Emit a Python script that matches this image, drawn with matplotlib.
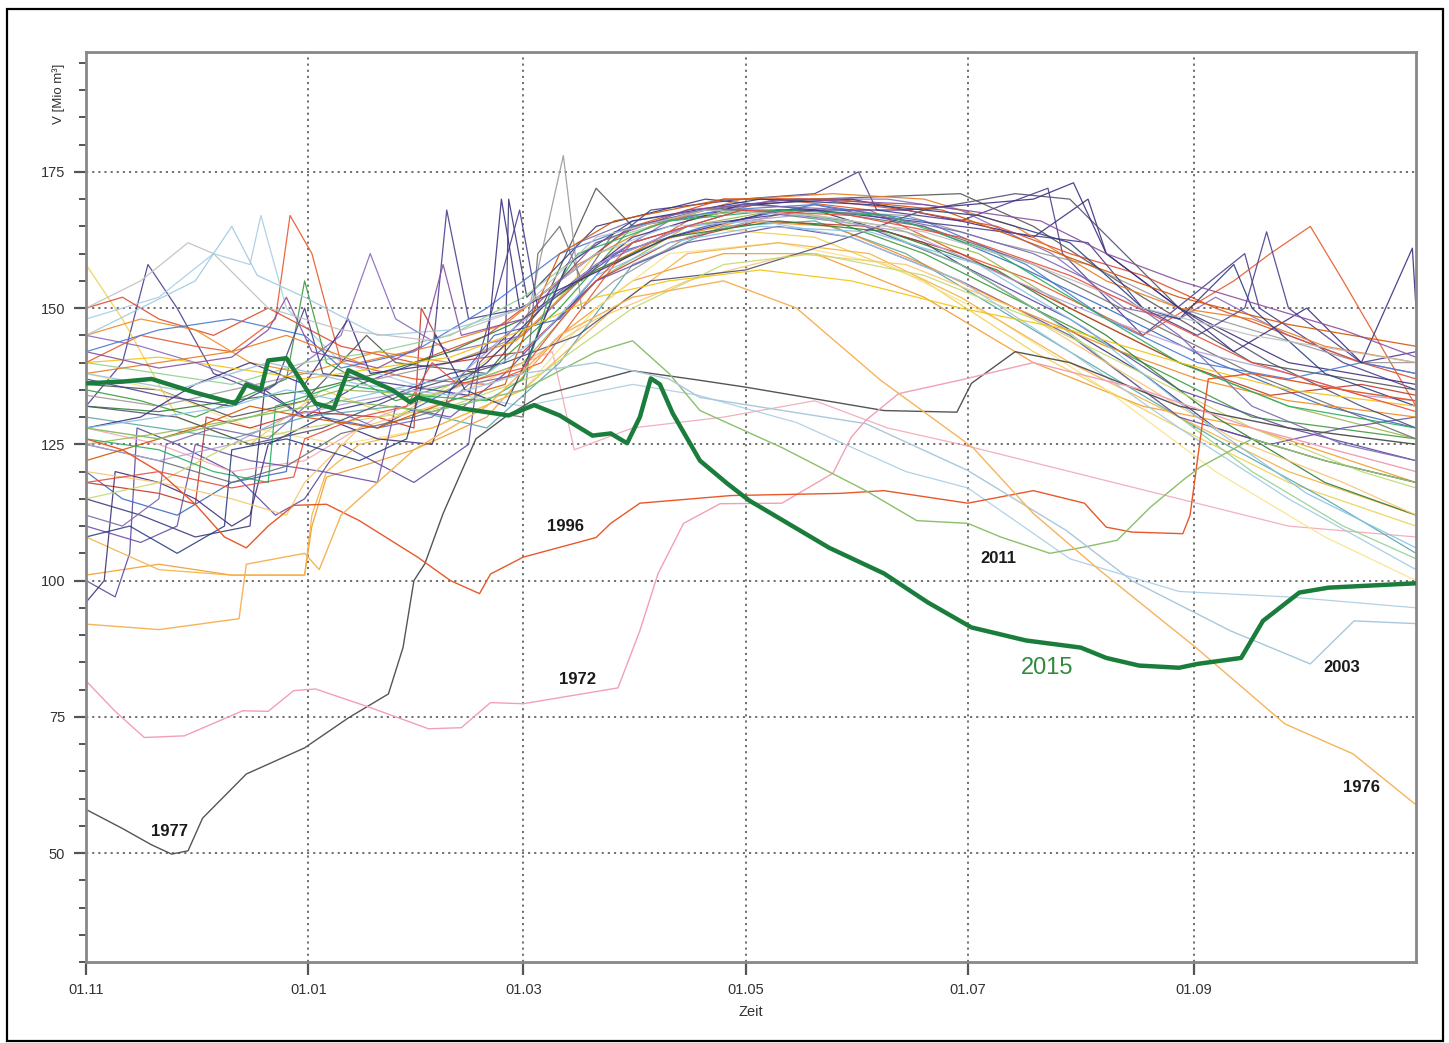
import numpy as np
import matplotlib
matplotlib.use("Agg")
import matplotlib.pyplot as plt
from matplotlib.ticker import MultipleLocator
from matplotlib.patches import Rectangle

plt.rcParams['font.family'] = ['Liberation Sans', 'DejaVu Sans']

# x-Achse: Tage seit 01.11
TICK_DAYS = [0, 61, 120, 181, 242, 304]
TICK_LABELS = ["01.11", "01.01", "01.03", "01.05", "01.07", "01.09"]

# hervorgehobene Jahre: (Tag, Volumen)
y2015 = [(0, 136.2), (10, 136.5), (18, 137), (30, 134.5), (41, 132.5), (44, 136), (48, 135),
         (50, 140.4), (55, 140.8), (63, 132.5), (68, 131.6), (72, 138.6), (84, 135), (89, 132.7),
         (91, 133.6), (103, 131.6), (116, 130.3), (123, 132.2), (130, 130.3), (139, 126.6),
         (144, 127), (148.5, 125.2), (152, 130), (155, 137.1), (157.5, 136), (161, 130.7),
         (168.5, 122), (176, 117.8), (182, 114.7), (204, 106), (219, 101.3), (231, 96),
         (243, 91.4), (258, 89), (273, 87.7), (280, 85.8), (289, 84.4), (300, 84), (305, 84.7),
         (317, 85.8), (323, 92.6), (333, 97.8), (341, 98.7), (365, 99.5)]
y1977 = [(0, 58), (10, 54.5), (18, 51.5), (23.5, 49.8), (28, 50.4), (32, 56.4), (44, 64.5),
         (60, 69.3), (72, 74.8), (83, 79.2), (87, 87.7), (90, 100), (93, 103.1), (98, 112.3),
         (102, 118.4), (107, 126), (115, 130), (125, 134), (150, 138.5), (168, 136.8),
         (181, 135.5), (219, 131.2), (239, 130.9), (243, 136.2), (255, 142), (270, 140),
         (300, 132), (330, 128), (365, 125)]
y1972 = [(0, 81.6), (8, 76), (16, 71.2), (27, 71.5), (43, 76.1), (50, 76), (57, 79.8),
         (63, 80.1), (78, 76.7), (94, 72.8), (103, 73), (111, 77.6), (120, 77.4), (146, 80.3),
         (152, 90.8), (157, 101.3), (164, 110.5), (174, 114.1), (191, 114.2), (205, 119.7),
         (210, 126.3), (214, 129.4), (223, 134.3), (240, 136.8), (260, 140), (290, 135),
         (320, 128), (365, 120)]
y1996 = [(0, 126), (10, 124), (20, 120), (30, 114), (38, 108), (44, 106), (50, 110),
         (57, 113.8), (66, 114), (75, 111), (91, 104.3), (100, 100), (108, 97.6), (111, 101.2),
         (120, 104.3), (140, 107.9), (144, 110.5), (152, 114.2), (177, 115.6), (207, 116),
         (219, 116.5), (242, 114.2), (260, 116.5), (274, 114.2), (280, 109.8), (287, 108.9),
         (301, 108.6), (303, 112), (305, 122), (308, 137), (320, 138), (345, 135), (365, 133)]
y2011 = [(0, 128), (20, 126), (45, 130), (70, 133), (95, 131), (120, 135), (140, 142),
         (150, 144), (160, 138), (168.5, 131.2), (191, 124.4), (214, 116.5), (228, 111),
         (242, 110.5), (251, 108), (264.5, 105), (273.6, 106.1), (283, 107.4), (292, 113.4),
         (301, 118.4), (305.7, 120.8), (320, 126), (340, 122), (365, 118)]
y2003 = [(0, 138), (25, 135), (50, 140), (75, 136), (100, 134), (120, 138), (140, 140),
         (160, 137), (168.5, 133.6), (214, 128.8), (242, 120.2), (269, 109.2), (287, 100),
         (314, 90.8), (336, 84.7), (348, 92.6), (365, 92.1)]
y1976 = [(0, 92), (20, 91), (42, 93), (44, 103), (60, 105), (64, 102), (70, 112), (90, 124),
         (110, 132), (130, 145), (150, 152), (175, 155), (195, 150), (218, 136.8),
         (243.4, 124.4), (260, 112.3), (278, 102), (304.6, 87.7), (329, 73.7), (347.7, 68.2),
         (364.7, 59)]

HIGHLIGHT = [y1977, y1972, y1996, y2011, y2003, y1976]
HIGHLIGHT_COLORS = ["#555555", "#f2a0b4", "#e8582a", "#8cbf6a", "#a9c8dc", "#f5b45a"]

# übrige Jahre
bg01 = [(0, 132), (10, 140), (17, 158), (25, 150), (35, 138), (50, 134), (60, 130), (75, 136),
        (95, 141), (99, 168), (105, 148), (120, 150), (140, 160), (155, 168), (180, 170),
        (200, 171), (212, 175), (217, 168), (240, 166), (264, 172), (268, 160), (290, 145),
        (318, 160), (322, 150), (345, 140), (365, 135)]
bg02 = [(0, 140), (15, 145), (30, 143), (40, 142), (52, 148), (56, 167), (62, 160), (70, 140),
        (90, 137), (110, 136), (125, 140), (145, 158), (165, 166), (190, 170), (215, 168),
        (240, 160), (260, 155), (290, 145), (315, 155), (325, 160), (336, 165), (345, 155),
        (365, 132)]
bg03 = [(0, 101), (20, 103), (40, 101), (60, 101), (62, 110), (66, 119), (90, 124),
        (110, 130), (130, 145), (150, 155), (175, 160), (200, 160), (230, 152), (260, 140),
        (290, 132), (320, 128), (365, 118)]
bg04 = [(0, 158), (10, 148), (25, 130), (45, 125), (65, 135), (85, 130), (105, 138),
        (125, 148), (140, 160), (165, 165), (200, 163), (230, 155), (260, 142), (300, 128),
        (330, 118), (365, 110)]
bg05 = [(0, 148), (20, 152), (35, 160), (45, 158), (48, 167), (55, 150), (70, 140), (95, 135),
        (120, 132), (150, 136), (168, 134), (195, 129), (225, 120), (242, 117), (270, 104),
        (300, 98), (330, 97), (365, 95)]
bg06 = [(0, 135), (15, 133), (30, 130), (55, 137), (60, 155), (66, 140), (85, 133), (110, 138),
        (130, 150), (150, 165), (180, 168), (205, 166), (230, 160), (260, 150), (290, 140),
        (320, 130), (365, 126)]
bg07 = [(0, 136), (20, 135), (40, 130), (60, 133), (77, 145), (85, 140), (110, 138),
        (125, 150), (140, 172), (150, 165), (170, 168), (200, 170), (240, 171), (260, 165),
        (290, 152), (320, 140), (365, 135)]
bg08 = [(0, 100), (8, 97), (12, 105), (14, 128), (25, 125), (40, 120), (52, 112), (60, 115),
        (70, 125), (90, 118), (105, 125), (108, 140), (120, 148), (150, 162), (180, 168),
        (210, 166), (240, 158), (270, 148), (300, 135), (330, 128), (365, 122)]
bg09 = [(0, 115), (15, 112), (30, 108), (45, 110), (49, 135), (60, 130), (80, 133),
        (100, 138), (115, 140), (116, 170), (121, 152), (140, 165), (170, 170), (200, 168),
        (230, 162), (260, 150), (290, 138), (310, 128), (340, 122), (365, 118)]
bg10 = [(0, 128), (20, 125), (40, 120), (60, 122), (80, 130), (100, 135), (128, 142),
        (134, 124), (150, 128), (175, 130), (200, 133), (220, 128), (240, 125), (270, 120),
        (300, 115), (330, 110), (365, 108)]
bg11 = [(0, 125), (20, 127), (45, 130), (70, 135), (95, 134), (120, 140), (140, 155),
        (165, 165), (190, 168), (220, 165), (245, 160), (270, 150), (300, 140), (330, 132),
        (365, 126)]
bg12 = [(0, 130), (20, 128), (40, 126), (60, 130), (85, 132), (110, 128), (130, 140),
        (150, 158), (175, 165), (200, 166), (225, 160), (250, 150), (280, 138), (310, 126),
        (340, 115), (365, 105)]
bg13 = [(0, 120), (10, 115), (25, 112), (40, 118), (55, 120), (58, 138), (65, 130), (80, 128),
        (100, 135), (112, 145), (130, 148), (145, 160), (170, 165), (200, 169), (230, 165),
        (255, 158), (280, 150), (310, 140), (340, 132), (365, 128)]
bg14 = [(0, 138), (20, 135), (45, 128), (70, 125), (95, 128), (120, 135), (140, 150),
        (160, 160), (190, 162), (220, 158), (250, 148), (280, 135), (310, 120), (340, 108),
        (365, 100)]
bg15 = [(0, 145), (15, 143), (30, 140), (50, 135), (70, 145), (78, 160), (85, 148), (100, 142),
        (120, 145), (140, 158), (160, 166), (190, 170), (220, 170), (240, 168), (265, 160),
        (285, 150), (300, 148), (310, 152), (330, 145), (350, 140), (365, 138)]
bg16 = [(0, 118), (20, 116), (30, 114), (33, 130), (45, 128), (60, 131), (80, 130), (90, 128),
        (92, 150), (100, 140), (120, 142), (140, 155), (160, 162), (185, 166), (215, 165),
        (240, 160), (270, 150), (300, 140), (325, 134), (350, 136), (365, 134)]
bg17 = [(0, 134), (20, 132), (40, 135), (60, 138), (80, 137), (100, 140), (120, 145),
        (131, 178), (136, 150), (145, 155), (165, 163), (195, 168), (225, 167), (250, 162),
        (275, 158), (300, 150), (325, 145), (350, 140), (365, 140)]
bg18 = [(0, 108), (20, 102), (40, 101), (60, 101), (62, 112), (66, 120), (75, 125), (95, 128),
        (120, 135), (145, 150), (165, 160), (190, 162), (215, 160), (240, 152), (270, 140),
        (300, 130), (330, 120), (365, 112)]
bg19 = [(0, 96), (5, 100), (8, 120), (20, 118), (30, 115), (40, 110), (45, 112), (50, 125),
        (65, 130), (80, 126), (95, 125), (100, 135), (110, 140), (125, 150), (150, 163),
        (180, 169), (210, 170), (240, 166), (260, 163), (275, 170), (280, 160), (300, 150),
        (330, 140), (365, 136)]
bg20 = [(0, 140), (20, 138), (40, 136), (60, 140), (80, 142), (100, 145), (120, 152),
        (140, 162), (165, 167), (190, 168), (215, 165), (240, 158), (265, 148), (290, 135),
        (320, 120), (345, 110), (365, 104)]
bg21 = [(0, 150), (10, 152), (20, 148), (35, 145), (50, 150), (70, 143), (90, 140),
        (110, 145), (130, 155), (150, 165), (175, 170), (200, 170), (225, 168), (250, 165),
        (270, 160), (290, 156), (310, 150), (330, 145), (350, 140), (365, 137)]
bg22 = [(0, 110), (15, 107), (25, 110), (30, 125), (45, 122), (65, 120), (80, 118), (85, 132),
        (100, 130), (115, 138), (125, 145), (140, 155), (165, 162), (190, 165), (210, 163),
        (240, 155), (270, 145), (300, 130), (325, 125), (345, 128), (365, 130)]
bg23 = [(0, 125), (20, 122), (40, 118), (55, 121), (70, 127), (90, 130), (100, 132),
        (120, 130), (124, 160), (130, 165), (136, 155), (145, 164), (170, 168), (200, 168),
        (230, 165), (260, 158), (290, 148), (320, 138), (350, 130), (365, 126)]
bg24 = [(0, 145), (15, 148), (30, 146), (45, 140), (60, 138), (80, 142), (100, 140),
        (118, 144), (135, 155), (155, 162), (180, 166), (205, 165), (230, 158), (255, 150),
        (280, 143), (305, 137), (330, 133), (365, 130)]
bg25 = [(0, 142), (20, 146), (40, 148), (60, 145), (70, 139), (90, 142), (110, 150),
        (130, 160), (150, 165), (175, 168), (200, 169), (230, 166), (258, 158), (280, 148),
        (305, 140), (330, 137), (350, 140), (365, 138)]
bg26 = [(0, 132), (20, 131), (40, 133), (62, 135), (80, 138), (100, 142), (120, 148),
        (140, 157), (160, 163), (190, 166), (220, 164), (250, 157), (280, 145), (310, 130),
        (340, 118), (365, 112)]
bg27 = [(0, 120), (20, 118), (40, 115), (55, 112), (60, 118), (75, 128), (95, 132),
        (120, 140), (140, 148), (165, 155), (195, 160), (225, 158), (255, 150), (285, 138),
        (315, 126), (345, 118), (365, 112)]
bg28 = [(0, 137), (20, 134), (40, 132), (52, 136), (60, 150), (65, 138), (85, 136),
        (105, 134), (119, 168), (124, 150), (140, 158), (165, 165), (200, 168), (240, 165),
        (275, 162), (290, 150), (305, 145), (318, 150), (324, 164), (330, 150), (350, 140),
        (365, 142)]
bg29 = [(0, 138), (20, 140), (40, 142), (55, 145), (75, 140), (95, 143), (115, 147),
        (135, 158), (155, 165), (180, 170), (205, 171), (230, 170), (255, 165), (280, 155),
        (300, 150), (320, 148), (340, 143), (365, 140)]
bg30 = [(0, 132), (25, 130), (45, 125), (65, 128), (90, 135), (115, 140), (135, 145),
        (155, 155), (181, 157), (205, 162), (230, 168), (255, 171), (270, 170), (285, 160),
        (300, 150), (325, 140), (350, 132), (365, 128)]
bg31 = [(0, 125), (20, 122), (40, 125), (55, 130), (75, 133), (100, 136), (115, 145),
        (140, 158), (165, 165), (195, 167), (225, 164), (255, 155), (280, 148), (305, 142),
        (330, 138), (350, 134), (365, 133)]
bg32 = [(0, 115), (20, 118), (40, 125), (60, 128), (80, 130), (100, 132), (125, 138),
        (150, 150), (175, 158), (200, 160), (230, 156), (260, 148), (290, 138), (320, 128),
        (350, 120), (365, 117)]
bg33 = [(0, 128), (15, 130), (30, 136), (45, 140), (60, 136), (72, 148), (78, 138),
        (100, 140), (110, 142), (114, 170), (119, 150), (135, 155), (160, 163), (190, 168),
        (225, 168), (260, 170), (271, 173), (280, 160), (300, 150), (315, 142), (335, 150),
        (350, 140), (364, 161), (365, 150)]
bg34 = [(0, 145), (15, 150), (30, 155), (40, 165), (47, 156), (60, 152), (80, 145),
        (100, 146), (120, 150), (140, 160), (160, 165), (185, 166), (210, 163), (240, 155),
        (270, 142), (300, 128), (330, 115), (365, 102)]
bg35 = [(0, 112), (10, 110), (20, 115), (22, 125), (35, 128), (50, 126), (62, 133), (80, 128),
        (95, 130), (105, 136), (120, 138), (128, 152), (135, 162), (150, 166), (180, 169),
        (210, 168), (240, 164), (260, 160), (285, 152), (300, 145), (320, 132), (345, 125),
        (365, 122)]
bg36 = [(0, 122), (15, 125), (30, 128), (45, 132), (60, 130), (80, 128), (100, 133),
        (115, 136), (122, 148), (130, 160), (145, 166), (175, 170), (205, 170), (235, 168),
        (255, 163), (275, 158), (300, 152), (330, 147), (365, 143)]
bg37 = [(0, 126), (20, 124), (35, 120), (50, 118), (52, 132), (70, 136), (90, 134),
        (110, 133), (120, 137), (127, 152), (135, 160), (160, 166), (190, 168), (220, 167),
        (250, 160), (275, 150), (300, 140), (330, 132), (365, 128)]
bg38 = [(0, 108), (12, 110), (25, 105), (38, 110), (40, 124), (55, 126), (75, 122), (88, 126),
        (96, 145), (104, 135), (115, 132), (122, 142), (132, 158), (150, 166), (185, 170),
        (215, 169), (245, 167), (270, 162), (290, 150), (300, 148), (315, 158), (320, 150),
        (340, 138), (365, 132)]
bg39 = [(0, 140), (20, 141), (40, 139), (60, 137), (80, 139), (100, 141), (120, 146),
        (140, 152), (160, 155), (185, 157), (210, 155), (240, 150), (270, 146), (300, 140),
        (330, 135), (365, 132)]
bg40 = [(0, 128), (20, 130), (40, 132), (55, 135), (70, 133), (90, 136), (110, 138),
        (125, 145), (140, 156), (160, 162), (185, 165), (215, 164), (245, 158), (275, 146),
        (305, 130), (335, 116), (365, 106)]
bg41 = [(0, 142), (20, 139), (40, 141), (50, 146), (55, 152), (62, 142), (80, 139), (92, 143),
        (98, 158), (103, 145), (120, 148), (140, 162), (165, 168), (195, 170), (230, 169),
        (262, 166), (280, 160), (300, 155), (325, 150), (345, 146), (365, 141)]
bg42 = [(0, 150), (15, 155), (28, 162), (35, 160), (50, 150), (70, 146), (95, 144),
        (120, 150), (140, 163), (170, 168), (200, 167), (230, 164), (260, 158), (290, 150),
        (320, 145), (365, 140)]
bg43 = [(0, 118), (20, 120), (40, 117), (57, 119), (60, 126), (75, 130), (88, 132), (95, 140),
        (102, 136), (120, 139), (133, 150), (150, 162), (180, 168), (210, 167), (240, 163),
        (270, 156), (295, 148), (320, 140), (345, 135), (365, 131)]

BACKGROUND = [bg01, bg02, bg03, bg04, bg05, bg06, bg07, bg08, bg09, bg10, bg11, bg12,
              bg13, bg14, bg15, bg16, bg17, bg18, bg19, bg20, bg21, bg22, bg23, bg24,
              bg25, bg26, bg27, bg28, bg29, bg30, bg31, bg32, bg33, bg34, bg35, bg36,
              bg37, bg38, bg39, bg40, bg41, bg42, bg43]
BG_COLORS = ["#4b3f8f", "#e8582a", "#f39a2c", "#f0d050", "#a9cde3", "#3c9a3c", "#555555",
             "#5b4aa0", "#3a3a7a", "#f2a7b5", "#9ab94a", "#5aa6a6", "#3d6ac0", "#f7e38a",
             "#8a6bbf", "#c0392b", "#9a9a9a", "#f5b041", "#40307a", "#8fd18f", "#e04a2a",
             "#6a4fa3", "#6f6f6f", "#f08c20", "#4a7ad0", "#2e7d32", "#f8c471", "#4b3f8f",
             "#e67e22", "#505070", "#b39ddb", "#c5d86d", "#3c2f80", "#9ec9e2", "#7b68b0",
             "#d35400", "#27ae60", "#2c3e80", "#f1c40f", "#85c1e9", "#884ea0", "#c0c0c0",
             "#e74c3c"]

LABELS = [("1977", 23, 54), ("1996", 131.7, 110), ("1972", 135, 81.8), ("2011", 250.3, 104),
          ("2003", 344.7, 84), ("1976", 350, 62)]

fig = plt.figure(figsize=(14.49, 10.43), dpi=100)
ax = fig.add_axes([86 / 1449, 1 - 962 / 1043, 1330 / 1449, 910 / 1043])

for series, col in zip(BACKGROUND, BG_COLORS):
    d, v = zip(*series)
    ax.plot(d, v, color=col, lw=0.9, alpha=0.9)

for series, col in zip(HIGHLIGHT, HIGHLIGHT_COLORS):
    d, v = zip(*series)
    ax.plot(d, v, color=col, lw=1.0)

d, v = zip(*y2015)
ax.plot(d, v, color="#1b7d3c", lw=3.2, solid_joinstyle="round", zorder=5)

for txt, x, y in LABELS:
    ax.text(x, y, txt, fontsize=12, fontweight="bold", color="#1a1a1a",
            ha="center", va="center", zorder=6)
ax.text(263.7, 84, "2015", fontsize=17, color="#2f8a3c", ha="center", va="center", zorder=6)

ax.set_xlim(0, 365)
ax.set_ylim(30, 197)
ax.set_xticks(TICK_DAYS)
ax.set_xticklabels(TICK_LABELS)
ax.yaxis.set_minor_locator(MultipleLocator(5))
ax.set_yticks([50, 75, 100, 125, 150, 175])

ax.grid(True, which="major", color="#666666", linestyle=(0, (1.2, 2.2)), lw=1.3)
ax.tick_params(axis="both", which="major", direction="out", length=9, width=1.6,
               color="#555555", labelsize=10.5, labelcolor="#333333", pad=6)
ax.tick_params(axis="y", which="minor", direction="out", length=5, width=1.4, color="#555555")
for s in ax.spines.values():
    s.set_color("#888888")
    s.set_linewidth(2)

ax.set_xlabel("Zeit", fontsize=10.5, color="#333333", labelpad=6)
fig.text(59 / 1449, 1 - 94 / 1043, "V [Mio m³]", rotation=90, fontsize=9.5,
         color="#333333", ha="center", va="center")

fig.patches.append(Rectangle((7 / 1449, 1 - 1041 / 1043), 1436 / 1449, 1032 / 1043,
                             transform=fig.transFigure, fill=False, edgecolor="black", lw=1.6))

fig.savefig("out.png", dpi=100)
